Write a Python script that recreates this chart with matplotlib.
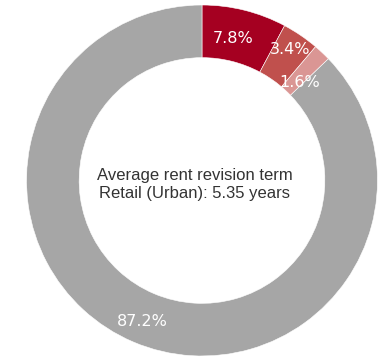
import numpy as np
import matplotlib.pyplot as plt

# Share of leases by rent revision term (Retail, Urban)
values = [7.8, 3.4, 1.6, 87.2]
labels = ['7.8%', '3.4%', '1.6%', '87.2%']
colors = ['#A50021', '#C0504D', '#DA9694', '#A6A6A6']
center_text = 'Average rent revision term\nRetail (Urban): 5.35 years'

fig = plt.figure(figsize=(3.87, 3.57), dpi=100)
ax = fig.add_axes([0, 0, 1, 1])

wedges, _ = ax.pie(values, colors=colors, startangle=90, counterclock=False,
                   radius=1.0, wedgeprops=dict(width=0.3, edgecolor='white', linewidth=0.4))

# label radius per slice (small slices are nudged like in the original)
label_r = [0.83, 0.90, 0.79, 0.87]
label_shift = [1.7, 0.4, -1.7, 0]
for w, lab, r, da in zip(wedges, labels, label_r, label_shift):
    ang = np.deg2rad((w.theta1 + w.theta2) / 2 + da)
    ax.text(r * np.cos(ang), r * np.sin(ang), lab, ha='center', va='center',
            color='white', fontsize=11.5, family='DejaVu Sans')

ax.text(-0.04, -0.02, center_text, ha='center', va='center', fontsize=12,
        color='#333333', family='Liberation Sans', linespacing=1.25)

ax.set_xlim(-202 / 175.5, 185 / 175.5)
ax.set_ylim(-176.5 / 175.5, 180.5 / 175.5)
ax.set_aspect('auto')
ax.axis('off')

fig.savefig('out.png', dpi=100)
